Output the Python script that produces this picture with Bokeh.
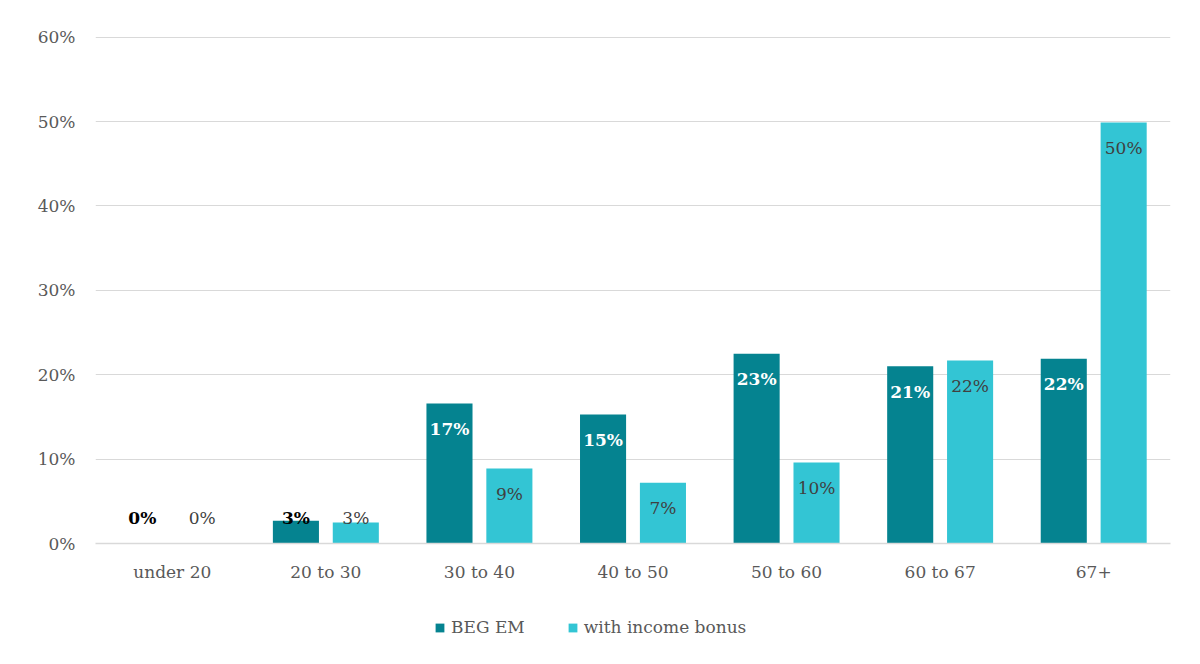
from bokeh.plotting import figure
from bokeh.layouts import column
from bokeh.models import ColumnDataSource, FixedTicker, PrintfTickFormatter, Legend, LegendItem
from bokeh.transform import dodge
from bokeh.core.properties import value
from bokeh.embed import file_html
from bokeh.resources import INLINE

categories = ["under 20", "20 to 30", "30 to 40", "40 to 50", "50 to 60", "60 to 67", "67+"]
beg_em = [0.0, 2.7, 16.6, 15.3, 22.5, 21.0, 21.9]
income_bonus = [0.0, 2.5, 8.9, 7.2, 9.6, 21.7, 49.9]
y_ticks = [0, 10, 20, 30, 40, 50, 60]
series_names = ["BEG EM", "with income bonus"]

FONT = "DejaVu Serif"
C1 = "#058390"
C2 = "#33C5D4"

def lab_pos(vals):
    return [max(v - 3.0, 3.0) for v in vals]

def fmt(v):
    return f"{int(v + 0.5):d}%"

src = ColumnDataSource(dict(
    cat=categories,
    beg=beg_em,
    bon=income_bonus,
    beg_lab=[fmt(v) for v in beg_em],
    bon_lab=[fmt(v) for v in income_bonus],
    beg_y=lab_pos(beg_em),
    bon_y=lab_pos(income_bonus),
    beg_col=["#000000" if v < 5 else "#ffffff" for v in beg_em],
))

p = figure(frame_width=1075, frame_height=508, x_range=categories, y_range=(0, 60.2),
           output_backend="svg", toolbar_location=None,
           min_border_left=95, min_border_right=22, min_border_top=35, min_border_bottom=6)
p.outline_line_color = None
p.background_fill_color = "white"
p.border_fill_color = "white"

r1 = p.vbar(x=dodge("cat", -0.195, range=p.x_range), top="beg", width=0.30, source=src,
            fill_color=C1, line_color=None)
r2 = p.vbar(x=dodge("cat", 0.195, range=p.x_range), top="bon", width=0.30, source=src,
            fill_color=C2, line_color=None)

p.text(x=dodge("cat", -0.195, range=p.x_range), y="beg_y", text="beg_lab", source=src,
       text_align="center", text_baseline="middle", text_color="beg_col",
       text_font=value(FONT), text_font_size="17px", text_font_style="bold")
p.text(x=dodge("cat", 0.195, range=p.x_range), y="bon_y", text="bon_lab", source=src,
       text_align="center", text_baseline="middle", text_color="#404040",
       text_font=value(FONT), text_font_size="17px")

p.xgrid.grid_line_color = None
p.ygrid.grid_line_color = "#d9d9d9"
p.ygrid.grid_line_width = 1.2
p.yaxis.ticker = FixedTicker(ticks=y_ticks)
p.yaxis.formatter = PrintfTickFormatter(format="%d%%")
p.yaxis.axis_line_color = None
p.yaxis.major_tick_line_color = None
p.yaxis.minor_tick_line_color = None
p.yaxis.major_label_text_font = FONT
p.yaxis.major_label_text_font_size = "17px"
p.yaxis.major_label_text_color = "#595959"
p.yaxis.major_label_standoff = 14

p.xaxis.axis_line_color = "#d9d9d9"
p.xaxis.axis_line_width = 1.5
p.xaxis.major_tick_line_color = None
p.xaxis.minor_tick_line_color = None
p.xaxis.major_label_text_font = FONT
p.xaxis.major_label_text_font_size = "17px"
p.xaxis.major_label_text_color = "#595959"
p.xaxis.major_label_standoff = 12

# Legend in a small companion figure below the chart
lg = figure(width=1192, height=66, x_range=(0, 1), y_range=(0, 1),
            output_backend="svg", toolbar_location=None,
            min_border=0)
lg.axis.visible = False
lg.grid.visible = False
lg.outline_line_color = None
lg.border_fill_color = "white"
lr1 = lg.vbar(x=[0.5], top=[0], width=0, fill_color=C1, line_color=None)
lr2 = lg.vbar(x=[0.5], top=[0], width=0, fill_color=C2, line_color=None)
legend = Legend(items=[LegendItem(label=series_names[0], renderers=[lr1]),
                       LegendItem(label=series_names[1], renderers=[lr2])],
                orientation="horizontal", location=(339, 13),
                glyph_width=11, glyph_height=11, spacing=42, label_standoff=6,
                label_text_font=FONT, label_text_font_size="17px",
                label_text_color="#595959", border_line_color=None,
                background_fill_alpha=0, margin=0, padding=2)
lg.add_layout(legend, "center")

open("out.html", "w").write(file_html(column(p, lg, spacing=0), INLINE))
